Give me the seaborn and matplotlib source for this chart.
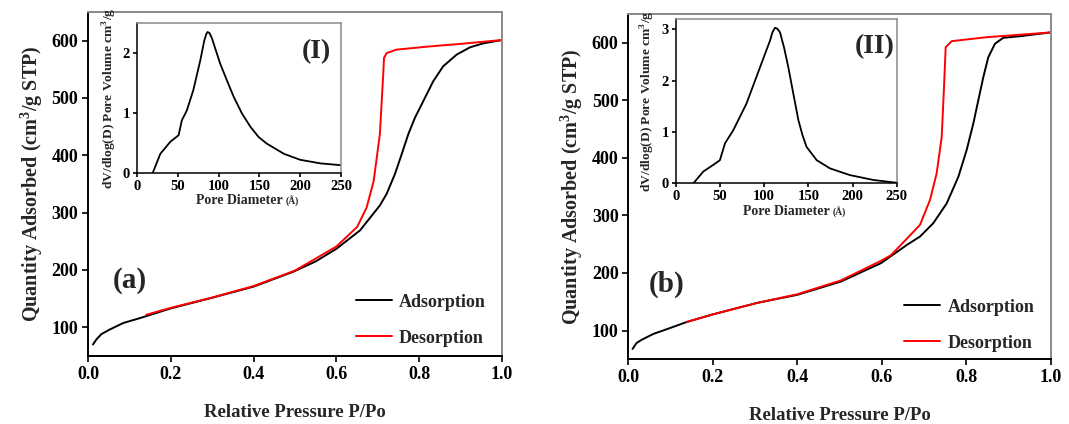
import numpy as np
import pandas as pd
import matplotlib
matplotlib.use("Agg")
import matplotlib.pyplot as plt
import seaborn as sns

# ---------------- data ----------------
# Panel (a) isotherm
a_ads_p = [0.012, 0.02, 0.032, 0.052, 0.085, 0.125, 0.2, 0.302, 0.4, 0.496, 0.55, 0.6, 0.657, 0.705, 0.7215,
           0.7415, 0.7577, 0.7737, 0.79, 0.81, 0.834, 0.858, 0.8905, 0.9227, 0.955, 0.991, 1.0]
a_ads_q = [70, 78.6, 88, 96, 107.5, 116, 133, 152, 171, 197, 215, 237, 269, 312.6, 333,
           367.6, 402, 437, 466, 494.7, 529.4, 555.4, 575.7, 588.4, 595.3, 600, 601]
a_des_p = [0.141, 0.2, 0.3, 0.4, 0.5, 0.6, 0.65, 0.673, 0.69, 0.705, 0.713, 0.715, 0.7215, 0.7456,
           0.826, 0.906, 0.99, 1.0]
a_des_q = [122, 134, 152, 172, 199, 241, 275, 309, 355, 437, 540, 570, 578.5, 584.4,
           590, 594.8, 600.5, 601]

# Panel (b) isotherm
b_ads_p = [0.01, 0.0198, 0.032, 0.059, 0.09, 0.139, 0.2, 0.305, 0.4, 0.503, 0.598, 0.66, 0.6906, 0.722,
           0.7538, 0.7813, 0.801, 0.8168, 0.8286, 0.8405, 0.8523, 0.868, 0.8878, 0.927, 1.0]
b_ads_q = [68, 78.5, 84, 94, 102, 115, 128, 148, 162, 185, 217, 249, 263.3, 286.5,
           321, 367, 413.5, 459.7, 500, 540.4, 575, 598.3, 608.7, 611.4, 618]
b_des_p = [0.139, 0.2, 0.305, 0.4, 0.503, 0.598, 0.622, 0.66, 0.6906, 0.7143, 0.73, 0.742, 0.7474,
           0.7514, 0.7656, 0.8485, 1.0]
b_des_q = [115, 128, 148, 163, 187, 221, 231, 260, 283.6, 327, 373, 436.5, 523,
           592.4, 602.8, 609.7, 618]

# Inset (I) pore size distribution
i1_d = [19.2, 28.6, 40.8, 51, 55, 61, 69, 77.6, 82.5, 85, 86.6, 89, 92, 96, 102, 110.3, 118.5,
        128.7, 139, 149, 159, 180, 200, 225, 250]
i1_v = [0.0, 0.32, 0.52, 0.63, 0.88, 1.04, 1.38, 1.88, 2.21, 2.32, 2.35, 2.33, 2.24, 2.07, 1.82, 1.54, 1.27,
        0.99, 0.77, 0.6, 0.49, 0.32, 0.22, 0.16, 0.13]

# Inset (II) pore size distribution
i2_d = [20, 31.3, 42.6, 50, 55.8, 65, 80, 95.4, 106.7, 109.4, 112.4, 115, 118, 122.5, 127.4, 133,
        138.8, 143.4, 148, 159.5, 174.6, 197, 223.6, 250]
i2_v = [0.0, 0.23, 0.36, 0.45, 0.78, 1.03, 1.55, 2.26, 2.78, 2.94, 3.03, 3.01, 2.94, 2.65, 2.26, 1.75,
        1.23, 0.94, 0.71, 0.45, 0.29, 0.16, 0.065, 0.01]

x_ticks = [0.0, 0.2, 0.4, 0.6, 0.8, 1.0]
y_ticks = [100, 200, 300, 400, 500, 600]
inset_x_ticks = [0, 50, 100, 150, 200, 250]

# ---------------- style ----------------
sns.set_style("ticks")
plt.rcParams['font.family'] = ['Liberation Serif', 'DejaVu Serif']
plt.rcParams['font.weight'] = 'bold'
plt.rcParams['axes.labelweight'] = 'bold'
plt.rcParams['mathtext.fontset'] = 'custom'
plt.rcParams['mathtext.rm'] = 'Liberation Serif:bold'
plt.rcParams['mathtext.bf'] = 'Liberation Serif:bold'

fig = plt.figure(figsize=(10.69, 4.24), dpi=100)

def style_axes(ax, tick_size, lw=1.4):
    for s in ['left', 'bottom']:
        ax.spines[s].set_color('black')
        ax.spines[s].set_linewidth(lw)
    for s in ['top', 'right']:
        ax.spines[s].set_visible(True)
        ax.spines[s].set_color('#8a8a8a')
        ax.spines[s].set_linewidth(lw)
    ax.tick_params(direction='out', length=4, width=1.2, labelsize=tick_size,
                   top=False, right=False, pad=3, colors='black')
    for lab in ax.get_xticklabels() + ax.get_yticklabels():
        lab.set_fontweight('bold')

def main_panel(rect, ads_p, ads_q, des_p, des_q, letter, letter_xy, leg_anchor):
    ax = fig.add_axes(rect)
    ads = pd.DataFrame({'p': ads_p, 'q': ads_q})
    des = pd.DataFrame({'p': des_p, 'q': des_q})
    sns.lineplot(data=ads, x='p', y='q', ax=ax, color='black', lw=1.4,
                 sort=False, estimator=None, label='Adsorption')
    sns.lineplot(data=des, x='p', y='q', ax=ax, color='#ff0000', lw=1.4,
                 sort=False, estimator=None, label='Desorption')
    ax.set_xlim(0, 1.0)
    ax.set_ylim(50, 650)
    ax.set_xticks(x_ticks)
    ax.set_xticklabels([f"{v:.1f}" for v in x_ticks])
    ax.set_yticks(y_ticks)
    ax.set_xlabel('Relative Pressure P/Po', fontsize=13.5, fontweight='bold', labelpad=15)
    ax.set_ylabel('Quantity Adsorbed (cm$^{\\mathbf{3}}$/g STP)', fontsize=14.5,
                  fontweight='bold', labelpad=5)
    style_axes(ax, 13)
    ax.text(letter_xy[0], letter_xy[1], letter, fontsize=21, fontweight='bold',
            ha='center', va='center')
    ax.legend(loc='lower right', bbox_to_anchor=leg_anchor, frameon=False,
              handlelength=2.0, labelspacing=1.05, handletextpad=0.4,
              prop={'weight': 'bold', 'size': 13})
    return ax

def inset_panel(rect, d, v, ymax, yticks, tag, tag_xy):
    ax = fig.add_axes(rect)
    df = pd.DataFrame({'d': d, 'v': v})
    sns.lineplot(data=df, x='d', y='v', ax=ax, color='black', lw=1.3,
                 sort=False, estimator=None)
    ax.set_xlim(0, 250)
    ax.set_ylim(0, ymax)
    ax.set_xticks(inset_x_ticks)
    ax.set_yticks(yticks)
    ax.set_xlabel('Pore Diameter', fontsize=10, fontweight='bold', labelpad=1)
    ax.annotate('(Å)', xy=(1, 0), xycoords=ax.xaxis.label, xytext=(2.5, 0),
                textcoords='offset points', fontsize=7, fontweight='bold',
                ha='left', va='bottom')
    ax.set_ylabel('dV/dlog(D) Pore Volume cm$^{\\mathbf{3}}$/g', fontsize=9.7,
                  fontweight='bold', labelpad=3)
    style_axes(ax, 10.5, lw=1.1)
    ax.tick_params(length=3, pad=2)
    ax.text(tag_xy[0], tag_xy[1], tag, transform=ax.transAxes, fontsize=20,
            fontweight='bold', ha='center', va='center')
    return ax

W, H = 1069.0, 424.0
def rect(l, t, r, b):
    return [l / W, 1 - b / H, (r - l) / W, (b - t) / H]

main_panel(rect(88, 12, 502, 356), a_ads_p, a_ads_q, a_des_p, a_des_q,
           '(a)', (0.1, 182), (1.0, -0.02))
main_panel(rect(628.3, 14, 1050.7, 359.3), b_ads_p, b_ads_q, b_des_p, b_des_q,
           '(b)', (0.09, 180), (1.0, -0.025))
inset_panel(rect(137, 23, 341, 173), i1_d, i1_v, 2.5, [0, 1, 2], '(I)', (0.88, 0.81))
inset_panel(rect(675.7, 19, 896.7, 183.3), i2_d, i2_v, 3.2, [0, 1, 2, 3], '(II)', (0.9, 0.83))

fig.savefig('out.png', dpi=100)
